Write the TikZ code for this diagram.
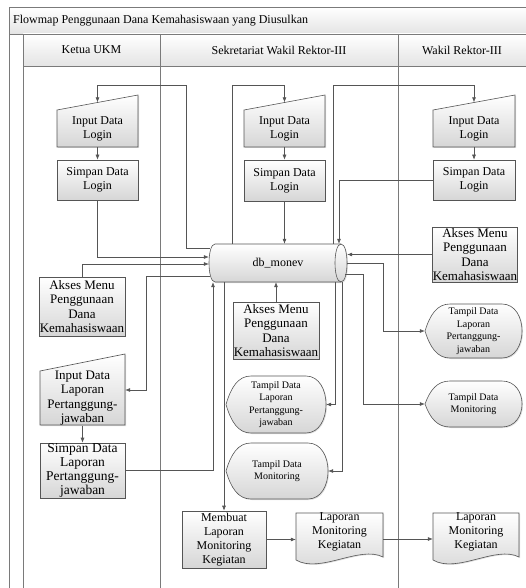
\documentclass[tikz,border=0pt]{standalone}
\usepackage{fontspec}
\setmainfont{Liberation Serif}
\usetikzlibrary{arrows.meta,calc,backgrounds,shadows}
\definecolor{linecol}{HTML}{555555}
\definecolor{framecol}{HTML}{7A7A7A}
\definecolor{shadebot}{HTML}{D6D6D6}
\definecolor{headbot}{HTML}{E4E4E4}
\newcommand\maninbg[4]{%
  \begin{scope}[on background layer, shift={(#1.center)}]
    \path[boxfill] (-#2,-#3) -- (#2,{-#3-#4}) -- (#2,#3) -- (-#2,#3) -- cycle;
  \end{scope}}
\newcommand\dispbg[3]{%
  \begin{scope}[on background layer, shift={(#1.center)}]
    \path[boxfill] (-#2,0) .. controls ({-#2+5},{-0.6*#3}) and ({-#2+12},-#3) .. ({-#2+25},-#3)
      -- ({#2-20},-#3) .. controls ({#2+6.7},-#3) and ({#2+6.7},#3) .. ({#2-20},#3)
      -- ({-#2+25},#3) .. controls ({-#2+12},#3) and ({-#2+5},{0.6*#3}) .. cycle;
  \end{scope}}
\newcommand\docbg[3]{%
  \begin{scope}[on background layer, shift={(#1.center)}]
    \path[boxfill] (-#2,-#3) -- (#2,-#3) -- (#2,{#3+6})
      .. controls ({#2-23},{#3-6}) and ({-#2+24},{#3+23}) .. (-#2,{#3+9}) -- cycle;
  \end{scope}}
\newcommand\cylbg[3]{% node, half width, half height (cap radius 6)
  \begin{scope}[on background layer, shift={(#1.center)}]
    \path[boxfill] ({-#2+6},-#3) -- ({#2-6},-#3) .. controls ({#2+2},-#3) and ({#2+2},#3) .. ({#2-6},#3)
      -- ({-#2+6},#3) .. controls ({-#2-2},#3) and ({-#2-2},-#3) .. cycle;
    \draw[conn] ({#2-6},-#3) .. controls ({#2-14},-#3) and ({#2-14},#3) .. ({#2-6},#3);
  \end{scope}}
\begin{document}
\begin{tikzpicture}[x=1pt,y=-1pt,
  boxfill/.style={draw=linecol, line width=0.6pt, top color=white, bottom color=shadebot,
    drop shadow={shadow xshift=1pt,shadow yshift=-1pt,opacity=0.25}},
  txt/.style={align=center, inner sep=0pt, font=\fontsize{12}{14}\selectfont},
  procbox/.style={txt, rectangle, boxfill},
  ghost/.style={txt, rectangle, draw=none},
  akses/.style={procbox, font=\fontsize{13}{14.5}\selectfont},
  tampil/.style={ghost, font=\fontsize{10}{12.5}\selectfont},
  framel/.style={draw=framecol, line width=0.7pt},
  conn/.style={draw=linecol, line width=0.6pt},
  arr/.style={conn, -{Latex[length=5pt,width=4pt]}},
  headtxt/.style={inner sep=0pt, font=\fontsize{12}{14}\selectfont},
]
\useasboundingbox (0,0) rectangle (526,588);
% frame
\path[top color=white, bottom color=headbot] (9,7) rectangle (526,34);
\path[top color=white, bottom color=headbot] (23,34) rectangle (526,66);
\draw[framel] (9,588) -- (9,7) -- (526,7);
\draw[framel] (9,34) -- (526,34);
\draw[framel] (23,66) -- (526,66);
\draw[framel] (23,34) -- (23,588);
\draw[framel] (160,34) -- (160,588);
\draw[framel] (398,34) -- (398,588);
\node[headtxt, anchor=west] (title) at (13,21) {Flowmap Penggunaan Dana Kemahasiswaan yang Diusulkan};
\node[headtxt] (h1) at (91.5,50) {Ketua UKM};
\node[headtxt] (h2) at (279,50) {Sekretariat Wakil Rektor-III};
\node[headtxt] (h3) at (462,50) {Wakil Rektor-III};

% Ketua UKM
\node[ghost, minimum width=81, minimum height=37] (il1) at (97.5,128.5) {Input Data\\Login};
\maninbg{il1}{40.5}{18.5}{15}
\node[procbox, minimum width=81, minimum height=40] (sl1) at (97.5,180) {Simpan Data\\Login};
\node[akses, minimum width=86, minimum height=59] (am1) at (82,306.5) {Akses Menu\\Penggunaan\\Dana\\Kemahasiswaan};
\node[ghost, font=\fontsize{13}{14.5}\selectfont, minimum width=85, minimum height=54] (ilap) at (82.5,398) {Input Data\\Laporan\\Pertanggung-\\jawaban};
\maninbg{ilap}{42.5}{27}{17}
\node[procbox, font=\fontsize{13.5}{14}\selectfont, minimum width=85, minimum height=55] (slap) at (82.5,470.5) {Simpan Data\\Laporan\\Pertanggung-\\jawaban};

% Sekretariat
\node[ghost, minimum width=81, minimum height=37] (il2) at (284.5,128.5) {Input Data\\Login};
\maninbg{il2}{40.5}{18.5}{15}
\node[procbox, minimum width=81, minimum height=41] (sl2) at (284.5,180.5) {Simpan Data\\Login};
\node[ghost, minimum width=138, minimum height=38] (db) at (278,263) {db\_monev};
\cylbg{db}{69}{19}
\node[akses, minimum width=86, minimum height=57] (am2) at (276,330.5) {Akses Menu\\Penggunaan\\Dana\\Kemahasiswaan};
\node[tampil, minimum width=100, minimum height=57] (tl2) at (276,404.5) {Tampil Data\\Laporan\\Pertanggung-\\jawaban};
\dispbg{tl2}{50}{28.5}
\node[tampil, minimum width=102, minimum height=56] (tm2) at (277,471) {Tampil Data\\Monitoring};
\dispbg{tm2}{51}{28}
\node[procbox, minimum width=84, minimum height=57] (mb) at (224,539.5) {Membuat\\Laporan\\Monitoring\\Kegiatan};
\node[ghost, minimum width=87, minimum height=38] (lap2) at (339.5,532) {Laporan\\Monitoring\\Kegiatan};
\docbg{lap2}{43.5}{19}

% Wakil Rektor
\node[ghost, minimum width=82, minimum height=37] (il3) at (474,128.5) {Input Data\\Login};
\maninbg{il3}{41}{18.5}{15}
\node[procbox, minimum width=82, minimum height=40] (sl3) at (474,180) {Simpan Data\\Login};
\node[akses, minimum width=84, minimum height=55] (am3) at (475,254.5) {Akses Menu\\Penggunaan\\Dana\\Kemahasiswaan};
\node[tampil, minimum width=97, minimum height=54] (tl3) at (473.5,331) {Tampil Data\\Laporan\\Pertanggung-\\jawaban};
\dispbg{tl3}{48.5}{27}
\node[tampil, minimum width=97, minimum height=46] (tm3) at (473.5,404) {Tampil Data\\Monitoring};
\dispbg{tm3}{48.5}{23}
\node[ghost, minimum width=86, minimum height=38] (lap3) at (476,532) {Laporan\\Monitoring\\Kegiatan};
\docbg{lap3}{43}{19}

% connectors
\draw[arr] ($(db.west)+(1,-15)$) -- ++(-24,0) |- ($(il1.north)+(0,-24)$) -- ($(il1.north)+(0,-7.5)$);
\draw[arr] (il1.south) -- (sl1.north);
\draw[arr] (sl1.south) |- ($(db.west)+(0,-6)$);
\draw[arr] (am1.north) |- ($(db.west)+(0,1)$);
\draw[arr] ($(db.west)+(1,13)$) -- ++(-64,0) |- ($(ilap.east)+(0,-8)$);
\draw[arr] (ilap.south) -- (slap.north);
\draw[arr] (slap.east) -| ($(db.south)+(-65,0)$);
\draw[arr] ($(db.north)+(-46,0)$) |- ($(il2.north)+(0,-24)$) -- ($(il2.north)+(0,-7.5)$);
\draw[arr] (il2.south) -- (sl2.north);
\draw[arr] (sl2.south) -- (sl2.south |- db.north);
\draw[arr] ($(db.north)+(55,0)$) |- ($(il3.north)+(0,-24)$) -- ($(il3.north)+(0,-7.5)$);
\draw[arr] (il3.south) -- (sl3.north);
\draw[arr] (sl3.west) -| ($(db.north)+(61,0)$);
\draw[arr] (am3.west) -- (am3.west -| db.east);
\draw[arr] (db.east) -- ++(36,0) |- (tl3.west);
\draw[arr] ($(db.east)+(-2,11)$) -- ++(18,0) |- (tm3.west);
\draw[arr] (am2.north) -- (am2.north |- db.south);
\draw[arr] ($(db.south)+(57,0)$) |- (tl2.east);
\draw[arr] ($(db.south)+(64,0)$) |- (tm2.east);
\draw[arr] (mb.north |- db.south) -- (mb.north);
\draw[arr] (mb.east) -- (mb.east -| lap2.west);
\draw[arr] ($(lap2.east)+(0,7)$) -- ($(lap3.west)+(0,7)$);
\end{tikzpicture}
\end{document}
